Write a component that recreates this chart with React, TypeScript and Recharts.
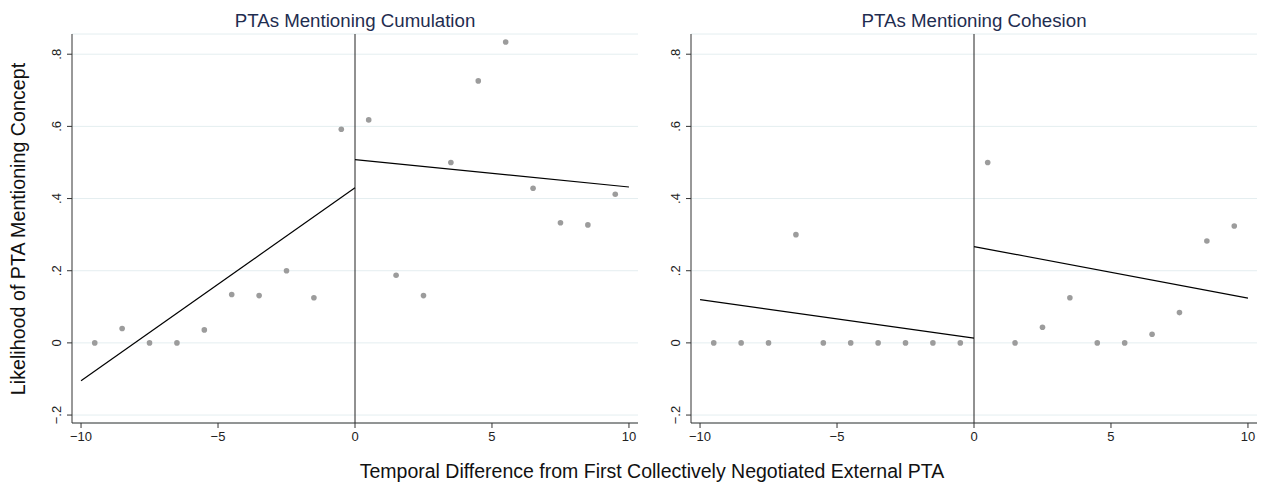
import { ScatterChart, Scatter, XAxis, YAxis, CartesianGrid, ReferenceLine } from 'recharts';

// bin midpoints: years relative to first collectively negotiated external PTA
const bins = [-9.5, -8.5, -7.5, -6.5, -5.5, -4.5, -3.5, -2.5, -1.5, -0.5, 0.5, 1.5, 2.5, 3.5, 4.5, 5.5, 6.5, 7.5, 8.5, 9.5];

const cumulationShare = [0, 0.04, 0, 0, 0.036, 0.134, 0.131, 0.2, 0.125, 0.592, 0.618, 0.1875, 0.131, 0.5, 0.726, 0.834, 0.4285, 0.333, 0.327, 0.412];
const cohesionShare = [0, 0, 0, 0.3, 0, 0, 0, 0, 0, 0, 0.5, 0, 0.0435, 0.125, 0, 0, 0.024, 0.084, 0.2825, 0.324];

// linear fits on each side of the cutoff
const fitBeforeX = [-10, 0];
const fitAfterX = [0, 10];
const cumulationFitBefore = [-0.105, 0.43];
const cumulationFitAfter = [0.508, 0.432];
const cohesionFitBefore = [0.12, 0.013];
const cohesionFitAfter = [0.267, 0.124];

const xTicks = [-10, -5, 0, 5, 10];
const yTicks = [-0.2, 0, 0.2, 0.4, 0.6, 0.8];

const titles = ['PTAs Mentioning Cumulation', 'PTAs Mentioning Cohesion'];

const FONT = '"Liberation Sans", Arial, Helvetica, sans-serif';
const AXIS = '#333';

const toPoints = (xs: number[], ys: number[]) => xs.map((x, i) => ({ x, y: ys[i] }));

const fmtY = (v: number) => {
  if (Math.abs(v) < 1e-9) return '0';
  const s = Math.abs(v).toFixed(1).replace(/^0/, '');
  return v < 0 ? '\u2212' + s : s;
};
const fmtX = (v: number) => (v < 0 ? '\u2212' + Math.abs(v) : String(v));

const YTick = (props: any) => {
  const { x, y, payload } = props;
  return (
    <text x={x} y={y} transform={`rotate(-90 ${x} ${y})`} textAnchor="middle" fontSize={13} fill="#222" fontFamily={FONT}>
      {fmtY(payload.value)}
    </text>
  );
};

const Dot = (props: any) => <circle cx={props.cx} cy={props.cy} r={2.8} fill="#9c9c9c" />;
const NoShape = () => <g />;

function Panel({ share, fitBefore, fitAfter }: { share: number[]; fitBefore: number[]; fitAfter: number[] }) {
  const pts = toPoints(bins, share);
  return (
    <ScatterChart width={640} height={490} margin={{ top: 34, right: 2, left: 42, bottom: 37 }}>
      <CartesianGrid horizontal vertical={false} stroke="#e4eef0" />
      <XAxis
        type="number"
        dataKey="x"
        domain={[-10.33, 10.33]}
        ticks={xTicks}
        height={30}
        tickSize={5}
        tickMargin={4}
        tickFormatter={fmtX}
        stroke={AXIS}
        tick={{ fontSize: 13, fill: '#222', fontFamily: FONT }}
      />
      <YAxis
        type="number"
        dataKey="y"
        domain={[-0.222, 0.856]}
        ticks={yTicks}
        width={30}
        tickSize={5}
        tickMargin={6}
        stroke={AXIS}
        tick={<YTick />}
      />
      <ReferenceLine x={0} stroke="#222" strokeWidth={1} ifOverflow="extendDomain" />
      <Scatter data={pts} shape={<Dot />} isAnimationActive={false} />
      <Scatter data={toPoints(fitBeforeX, fitBefore)} line={{ stroke: '#000', strokeWidth: 1.2 }} shape={<NoShape />} isAnimationActive={false} />
      <Scatter data={toPoints(fitAfterX, fitAfter)} line={{ stroke: '#000', strokeWidth: 1.2 }} shape={<NoShape />} isAnimationActive={false} />
    </ScatterChart>
  );
}

export default function App() {
  return (
    <div style={{ position: 'absolute', left: 0, top: 0, width: 1266, height: 490, background: '#fff', overflow: 'hidden' }}>
      <div style={{ position: 'absolute', left: 0, top: 0 }}>
        <Panel share={cumulationShare} fitBefore={cumulationFitBefore} fitAfter={cumulationFitAfter} />
      </div>
      <div style={{ position: 'absolute', left: 619, top: 0 }}>
        <Panel share={cohesionShare} fitBefore={cohesionFitBefore} fitAfter={cohesionFitAfter} />
      </div>
      <svg width={1266} height={490} style={{ position: 'absolute', left: 0, top: 0, pointerEvents: 'none' }}>
        <text x={355} y={26.7} textAnchor="middle" fontSize={18.7} fill="#1f2d50" fontFamily={FONT}>{titles[0]}</text>
        <text x={974} y={26.7} textAnchor="middle" fontSize={18.7} fill="#1f2d50" fontFamily={FONT}>{titles[1]}</text>
        <text x={652} y={478} textAnchor="middle" fontSize={19.5} fill="#111" fontFamily={FONT}>
          Temporal Difference from First Collectively Negotiated External PTA
        </text>
        <text x={25} y={229} transform="rotate(-90 25 229)" textAnchor="middle" fontSize={19.7} fill="#111" fontFamily={FONT}>
          Likelihood of PTA Mentioning Concept
        </text>
      </svg>
    </div>
  );
}
